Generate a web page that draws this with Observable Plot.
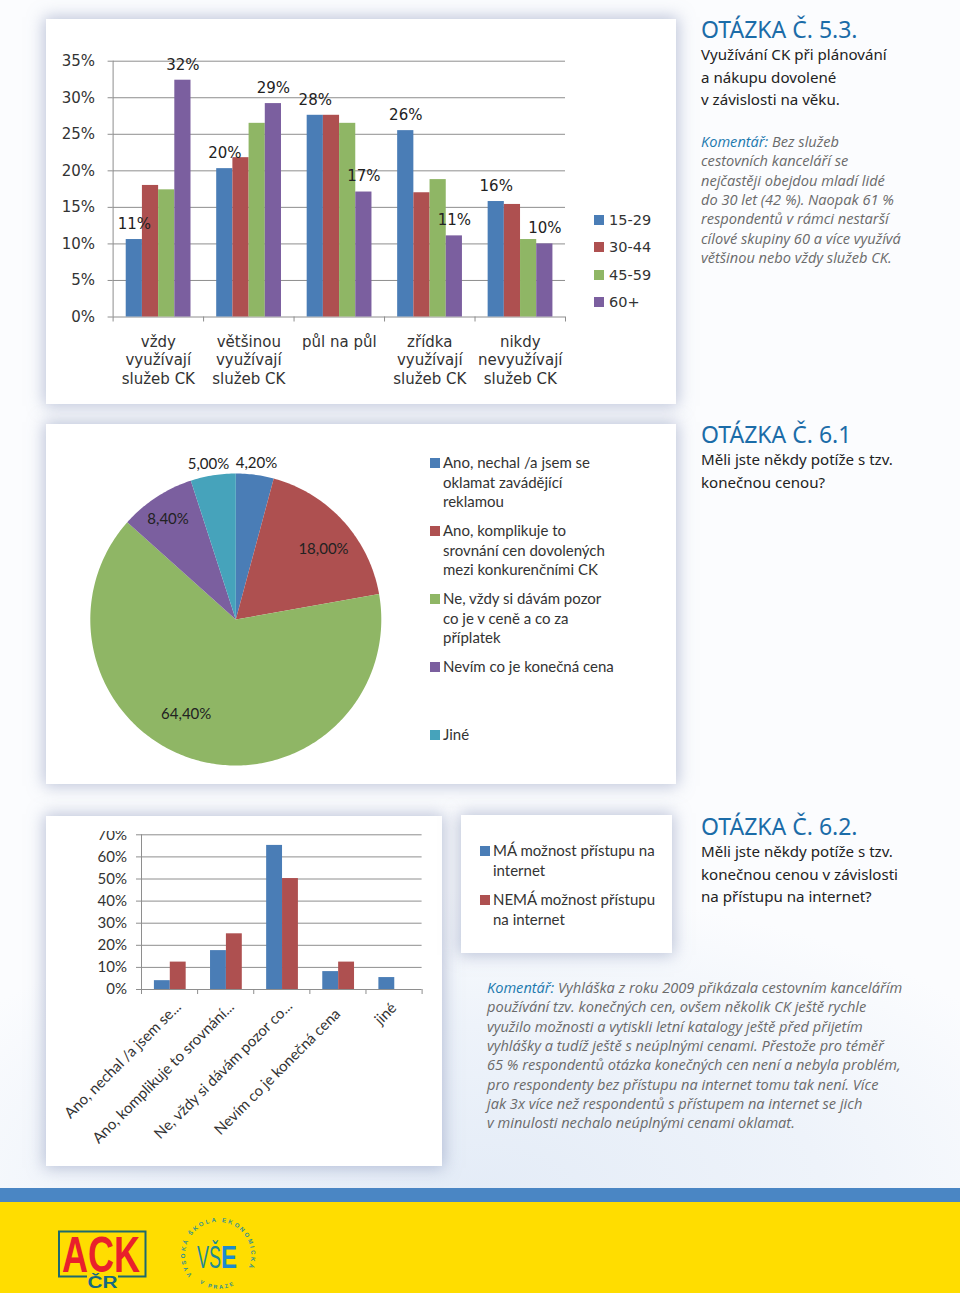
<!DOCTYPE html>
<html lang="cs"><head><meta charset="utf-8">
<script src="https://cdn.jsdelivr.net/npm/d3@7"></script>
<script src="https://cdn.jsdelivr.net/npm/@observablehq/plot@0.6"></script>
<style>
html,body{margin:0;padding:0}
#page{position:relative;width:960px;height:1293px;overflow:hidden;background:radial-gradient(ellipse 620px 300px at 480px 1190px,#e4ecf7 0%,#eef3fa 55%,rgba(250,252,254,0) 100%),#fbfcfe;font-family:"Noto Sans",sans-serif}
.card{position:absolute;background:#fff;box-shadow:0 0 15px 2px rgba(125,140,180,.5)}
.abs{position:absolute;white-space:pre}
.h{color:#1b6ca8;font-size:23px;line-height:26px;left:701px}
.q{color:#222;font-size:15.1px;line-height:22.5px;left:701px}
.c{color:#6a6a6a;font-style:italic;font-family:"Open Sans";font-size:14.6px;line-height:19.35px;left:701px}
.c b{color:#1b79ae;font-weight:400}
.lg{color:#333;font-family:Lato;font-size:15px;line-height:19.6px}
.lg1{color:#333;font-family:"DejaVu Sans";font-size:14.5px;line-height:18px}
.sw{position:absolute;width:10px;height:10px}
svg{display:block}
.plot{position:absolute}
</style></head><body><div id="page"></div>
<script>
// ---- Chart 5.3
const useCategories=["vždy\nvyužívají\nslužeb CK","většinou\nvyužívají\nslužeb CK","půl na půl","zřídka\nvyužívají\nslužeb CK","nikdy\nnevyužívají\nslužeb CK"];
const ageGroups=["15-29","30-44","45-59","60+"];
const age1529=[10.6,20.3,27.6,25.5,15.8];
const age3044=[18,21.8,27.6,17,15.4];
const age4559=[17.4,26.5,26.5,18.8,10.6];
const age60=[32.4,29.2,17.1,11.1,10];
const usePctTicks=[0,5,10,15,20,25,30,35];
// which bars wear a data label: [category, series, text]
const useLabels=[[0,0,"11%"],[0,3,"32%"],[1,0,"20%"],[1,3,"29%"],[2,0,"28%"],[2,3,"17%"],[3,0,"26%"],[3,3,"11%"],[4,0,"16%"],[4,3,"10%"]];
// ---- Chart 6.1
const pieNames=["Ano, nechal /a jsem se\noklamat zavádějící\nreklamou","Ano, komplikuje to\nsrovnání cen dovolených\nmezi konkurenčními CK","Ne, vždy si dávám pozor\nco je v ceně a co za\npříplatek","Nevím co je konečná cena","Jiné"];
const pieValues=[4.2,18,64.4,8.4,5];
const pieText=["4,20%","18,00%","64,40%","8,40%","5,00%"];
// ---- Chart 6.2
const accessCategories=["Ano, nechal /a jsem se...","Ano, komplikuje to srovnání...","Ne, vždy si dávám pozor co...","Nevím co je konečná cena","jiné"];
const accessSeries=["MÁ možnost přístupu na internet","NEMÁ možnost přístupu na internet"];
const hasAccess=[4,17.6,65.2,8.1,5.4];
const noAccess=[12.4,25.2,50.2,12.4,null];
const accessTicks=[0,10,20,30,40,50,60,70];
// ---- Colours and label placement
const blue="#4a7db6",red="#ae5050",green="#8fb665",purple="#7b5f9f",teal="#46a3bb";
const pieLabelRadius=[1.08,.77,.73,.83,1.08];
const pieLabelTurn=[0,4,12,-1,-1];
const accessShift=[[9,9],[6,9],[8,8],[0,16],[0,10]];
const page=document.getElementById("page");
function add(cls,css,html){const e=document.createElement("div");e.className=cls;e.style.cssText=css;if(html!=null)e.innerHTML=html;page.appendChild(e);return e}
function place(svg,l,t,extra){svg.classList.add("plot");svg.style.left=l+"px";svg.style.top=t+"px";svg.style.position="absolute";svg.style.background="transparent";if(extra)svg.style.overflow=extra;page.appendChild(svg)}
function rows(cats,series,values,start,step){return cats.flatMap((c,i)=>series.flatMap((s,j)=>values[j][i]==null?[]:[{i,j,series:s,value:values[j][i],x1:i+start+j*step,x2:i+start+(j+1)*step}]))}
// cards
add("card","left:46px;top:19px;width:630px;height:385px");
add("card","left:46px;top:424px;width:630px;height:360px");
add("card","left:46px;top:816px;width:396px;height:350px");
add("card","left:461px;top:815px;width:211px;height:138px");

// Chart 1
const r1=rows(useCategories,ageGroups,[age1529,age3044,age4559,age60],.145,.179);
const labelled=useLabels.map(([i,j,text])=>({...r1.find(r=>r.i===i&&r.j===j),text}));
const font1={fontFamily:"DejaVu Sans",fontSize:"15px",color:"#333",background:"transparent"};
place(Plot.plot({width:630,height:385,marginLeft:66.6,marginRight:111,marginTop:41.7,marginBottom:87.5,style:font1,
 x:{domain:[0,5]},y:{domain:[0,35]},color:{domain:ageGroups,range:[blue,red,green,purple]},
 marks:[
  Plot.ruleY(usePctTicks,{stroke:"#8e8e8e"}),
  Plot.ruleX([0],{stroke:"#8e8e8e"}),
  Plot.rect(r1,{x1:"x1",x2:"x2",y1:0,y2:"value",fill:"series"}),
  Plot.axisY({ticks:usePctTicks,tickFormat:d=>d+"%",tickSize:5,tickPadding:13,stroke:"#8e8e8e",label:null,fill:"#333"}),
  Plot.axisX({ticks:[0,1,2,3,4,5],tickFormat:()=>"",tickSize:5,stroke:"#8e8e8e",label:null}),
  Plot.axisX({ticks:[.5,1.5,2.5,3.5,4.5],tickFormat:d=>useCategories[Math.floor(d)],tickSize:0,tickPadding:16.5,lineHeight:1.24,label:null,fill:"#333"}),
  Plot.text(labelled,{x:d=>(d.x1+d.x2)/2,y:"value",text:"text",dy:-15.5,fill:"#222",fontSize:15})
 ]}),46,19);
ageGroups.forEach((g,i)=>{const y=[220,247,275,302][i];
 add("sw",`left:594px;top:${y-5}px;background:${[blue,red,green,purple][i]}`);
 add("abs lg1",`left:609px;top:${y-9}px`,g)});

// Chart 2 – pie
const tot=d3.sum(pieValues);let acc=0;
const slices=pieValues.map((v,i)=>{const s=acc;acc+=v;return{i,name:pieNames[i],v,start:s,end:acc}});
const pts=slices.flatMap(s=>{const n=Math.ceil((s.end-s.start)*4);
  return [{slice:s.name,x:0,y:0},...d3.range(n+1).map(k=>{const a=(s.start+(s.end-s.start)*k/n)/tot*2*Math.PI;return{slice:s.name,x:Math.sin(a),y:Math.cos(a)}})]});
const pieLabels=slices.map(s=>{const a=((s.start+s.end)/2/tot*360+pieLabelTurn[s.i])*Math.PI/180,r=pieLabelRadius[s.i];return{text:pieText[s.i],x:r*Math.sin(a),y:r*Math.cos(a)}});
place(Plot.plot({width:630,height:360,marginLeft:43.8,marginRight:295.2,marginTop:49,marginBottom:19,axis:null,style:{fontFamily:"Lato",background:"transparent"},
 x:{domain:[-1,1]},y:{domain:[-1,1]},color:{domain:pieNames,range:[blue,red,green,purple,teal]},
 marks:[
  Plot.line(pts,{x:"x",y:"y",z:"slice",fill:"slice",stroke:"none"}),
  Plot.text(pieLabels,{x:"x",y:"y",text:"text",fontSize:15,fill:"#222"})
 ]}),46,424);
[[blue,463,pieNames[0]],[red,531,pieNames[1]],[green,599,pieNames[2]],[purple,667,pieNames[3]],[teal,735,pieNames[4]]].forEach(([c,y,t])=>{
 add("sw",`left:430px;top:${y-5}px;background:${c}`);
 add("abs lg",`left:443px;top:${y-10}px`,t)});

// Chart 3
const r3=rows(accessCategories,accessSeries,[hasAccess,noAccess],.23,.283);
place(Plot.plot({width:396,height:335,marginLeft:95,marginRight:20.4,marginTop:3.3,marginBottom:177,style:{fontFamily:"Lato",fontSize:"15px",color:"#333",background:"transparent"},
 x:{domain:[0,5]},y:{domain:[0,70]},color:{domain:accessSeries,range:[blue,red]},
 marks:[
  Plot.ruleY(accessTicks,{stroke:"#8e8e8e"}),
  Plot.ruleX([0],{stroke:"#8e8e8e"}),
  Plot.rect(r3,{x1:"x1",x2:"x2",y1:0,y2:"value",fill:"series"}),
  Plot.axisY({ticks:accessTicks,tickFormat:d=>d+"%",tickSize:5,tickPadding:9.5,stroke:"#8e8e8e",label:null,fill:"#333"}),
  Plot.axisX({ticks:[0,1,2,3,4,5],tickFormat:()=>"",tickSize:5,stroke:"#8e8e8e",label:null}),
  ...accessCategories.map((c,i)=>Plot.axisX({ticks:[i+.5],tickFormat:()=>c,tickSize:0,tickPadding:6,tickRotate:-45,label:null,fill:"#333",textOverflow:null,lineWidth:Infinity,dx:accessShift[i][0],dy:accessShift[i][1]}))
 ]}),46,831,"hidden");
add("sw",`left:480px;top:846px;background:${blue}`);
add("abs lg","left:493px;top:841px","MÁ možnost přístupu na\ninternet");
add("sw",`left:480px;top:895px;background:${red}`);
add("abs lg","left:493px;top:890px","NEMÁ možnost přístupu\nna internet");

// Right-hand texts
add("abs h","top:16px","OTÁZKA Č. 5.3.");
add("abs q","top:43px","Využívání CK při plánování\na nákupu dovolené\nv závislosti na věku.");
add("abs c","top:132px","<b>Komentář:</b> Bez služeb\ncestovních kanceláří se\nnejčastěji obejdou mladí lidé\ndo 30 let (42 %). Naopak 61 %\nrespondentů v rámci nestarší\ncílové skupiny 60 a více využívá\nvětšinou nebo vždy služeb CK.");
add("abs h","top:421px","OTÁZKA Č. 6.1");
add("abs q","top:448px","Měli jste někdy potíže s tzv.\nkonečnou cenou?");
add("abs h","top:813px","OTÁZKA Č. 6.2.");
add("abs q","top:840px","Měli jste někdy potíže s tzv.\nkonečnou cenou v závislosti\nna přístupu na internet?");
add("abs c","top:978px;left:487px","<b>Komentář:</b> Vyhláška z roku 2009 přikázala cestovním kancelářím\npoužívání tzv. konečných cen, ovšem několik CK ještě rychle\nvyužilo možnosti a vytiskli letní katalogy ještě před přijetím\nvyhlášky a tudíž ještě s neúplnými cenami. Přestože pro téměř\n65 % respondentů otázka konečných cen není a nebyla problém,\npro respondenty bez přístupu na internet tomu tak není. Více\njak 3x více než respondentů s přístupem na internet se jich\nv minulosti nechalo neúplnými cenami oklamat.");

// Footer
add("abs","left:0;top:1188px;width:960px;height:14px;background:#4a86c4");
add("abs","left:0;top:1202px;width:960px;height:91px;background:#ffdd00");
const logos=document.createElement("div");
logos.className="abs";logos.style.cssText="left:0;top:1202px";
logos.innerHTML=`<svg width="300" height="91" viewBox="0 0 300 91">
<defs><path id="arcTop" d="M192 73 A33 33 0 1 1 245 72"/><path id="arcBot" d="M199.500 81 A34 34 0 0 0 237.500 81"/></defs>
<path d="M87 74.500H59V29.500H145.500V74.500H118" fill="none" stroke="#1c6a6e" stroke-width="2"/>
<text x="62" y="70" font-family="Liberation Sans" font-weight="700" font-size="50" fill="#e9202c" textLength="78" lengthAdjust="spacingAndGlyphs">ACK</text>
<text x="87.500" y="86" font-family="Liberation Sans" font-weight="700" font-size="16" fill="#156a80" textLength="30" lengthAdjust="spacingAndGlyphs">ČR</text>
<text font-family="Liberation Sans" font-weight="700" font-size="6" letter-spacing="2.100" fill="#2f8f96"><textPath href="#arcTop">VYSOKÁ ŠKOLA EKONOMICKÁ</textPath></text>
<text font-family="Liberation Sans" font-weight="700" font-size="5.500" letter-spacing="2" fill="#2f8f96"><textPath href="#arcBot">V PRAZE</textPath></text>
<text x="197" y="66" font-family="Liberation Sans" font-size="31" fill="#1f8a96" textLength="24" lengthAdjust="spacingAndGlyphs">VŠ</text>
<text x="221" y="66" font-family="Liberation Sans" font-weight="700" font-size="31" fill="#1c8bd0" textLength="16" lengthAdjust="spacingAndGlyphs">E</text>
</svg>`;
page.appendChild(logos);
</script></body></html>
